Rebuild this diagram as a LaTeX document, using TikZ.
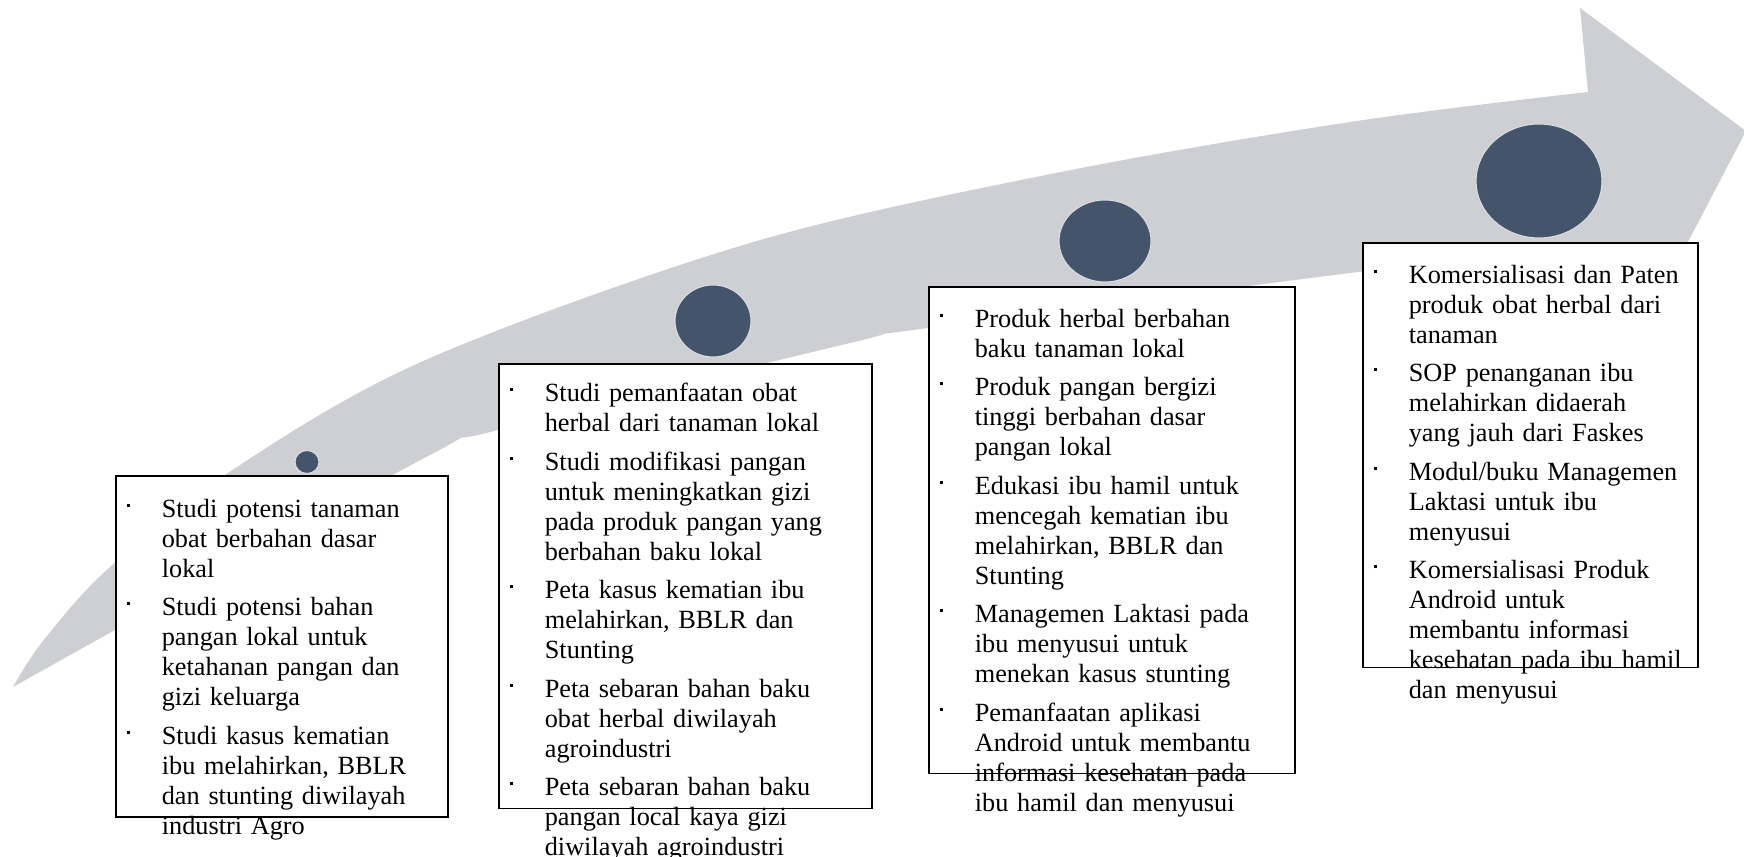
\documentclass[tikz,border=0pt]{standalone}
\usepackage{fontspec}
\setmainfont{Liberation Serif}
\usetikzlibrary{shapes.geometric}
\newlength{\bind}
\setlength{\bind}{0.7cm}
\newcommand{\bitem}[1]{\noindent\makebox[\bind][l]{\raisebox{0.21cm}{\rule{0.06cm}{0.06cm}}}\parbox[t]{6.6cm}{\strut#1\strut}\par}
\begin{document}
\begin{tikzpicture}[x=0.02cm,y=-0.02cm,
 stepbox/.style={draw=black,line width=0.9pt,fill=white,inner sep=0pt,anchor=north west},
 stepdot/.style={ellipse,fill=dotblue,draw=white!80!dotblue,line width=0.6pt,inner sep=0pt},
 steptext/.style={anchor=north west,inner sep=0pt,align=left,text width=7.4cm,font=\fontsize{14.95}{17.07}\selectfont\setlength{\parskip}{0.135cm}}]
 \definecolor{arrowgray}{RGB}{206,207,211}
 \definecolor{dotblue}{HTML}{44546A}
 \useasboundingbox (0,0) rectangle (1744,857);
 \fill [arrowgray] plot [smooth,tension=0.55] coordinates {(13,687) (43,641) (110,567) (240,465) (430,358) (750,243) (1056,173) (1350,122) (1588,92)}
  -- (1580,8) -- (1746,131) -- (1620,372) -- (1600,243)
  -- plot [smooth,tension=0.55] coordinates {(1600,243) (1350,273) (928,328) (850,343) (498,430) (430,455) (115,630) (13,687)} -- cycle;
 \node [stepdot,minimum width=0.48cm,minimum height=0.46cm] (dot1) at (307,462) {};
 \node [stepdot,minimum width=1.52cm,minimum height=1.44cm] (dot2) at (713,321) {};
 \node [stepdot,minimum width=1.84cm,minimum height=1.64cm] (dot3) at (1105,241) {};
 \node [stepdot,minimum width=2.52cm,minimum height=2.28cm] (dot4) at (1539,181) {};
 \node [stepbox,minimum width=6.64cm,minimum height=6.82cm] (stage1) at (115,475) {};
 \node [stepbox,minimum width=7.46cm,minimum height=8.9cm] (stage2) at (498,363) {};
 \node [stepbox,minimum width=7.32cm,minimum height=9.74cm] (stage3) at (928,286) {};
 \node [stepbox,minimum width=6.7cm,minimum height=8.5cm] (stage4) at (1362,242) {};
 \node [steptext] (list1) at ([xshift=0.23cm,yshift=-0.42cm]stage1.north west) {%
  \bitem{Studi potensi tanaman\\obat berbahan dasar\\lokal}
  \bitem{Studi potensi bahan\\pangan lokal untuk\\ketahanan pangan dan\\gizi keluarga}
  \bitem{Studi kasus kematian\\ibu melahirkan, BBLR\\dan stunting diwilayah\\industri Agro}};
 \node [steptext] (list2) at ([xshift=0.23cm,yshift=-0.35cm]stage2.north west) {%
  \bitem{Studi pemanfaatan obat\\herbal dari tanaman lokal}
  \bitem{Studi modifikasi pangan\\untuk meningkatkan gizi\\pada produk pangan yang\\berbahan baku lokal}
  \bitem{Peta kasus kematian ibu\\melahirkan, BBLR dan\\Stunting}
  \bitem{Peta sebaran bahan baku\\obat herbal diwilayah\\agroindustri}
  \bitem{Peta sebaran bahan baku\\pangan local kaya gizi\\diwilayah agroindustri}};
 \node [steptext] (list3) at ([xshift=0.23cm,yshift=-0.4cm]stage3.north west) {%
  \bitem{Produk herbal berbahan\\baku tanaman lokal}
  \bitem{Produk pangan bergizi\\tinggi berbahan dasar\\pangan lokal}
  \bitem{Edukasi ibu hamil untuk\\mencegah kematian ibu\\melahirkan, BBLR dan\\Stunting}
  \bitem{Managemen Laktasi pada\\ibu menyusui untuk\\menekan kasus stunting}
  \bitem{Pemanfaatan aplikasi\\Android untuk membantu\\informasi kesehatan pada\\ibu hamil dan menyusui}};
 \node [steptext] (list4) at ([xshift=0.23cm,yshift=-0.4cm]stage4.north west) {%
  \bitem{Komersialisasi dan Paten\\produk obat herbal dari\\tanaman}
  \bitem{SOP penanganan ibu\\melahirkan didaerah\\yang jauh dari Faskes}
  \bitem{Modul/buku Managemen\\Laktasi untuk ibu\\menyusui}
  \bitem{Komersialisasi Produk\\Android untuk\\membantu informasi\\kesehatan pada ibu hamil\\dan menyusui}};
\end{tikzpicture}
\end{document}
